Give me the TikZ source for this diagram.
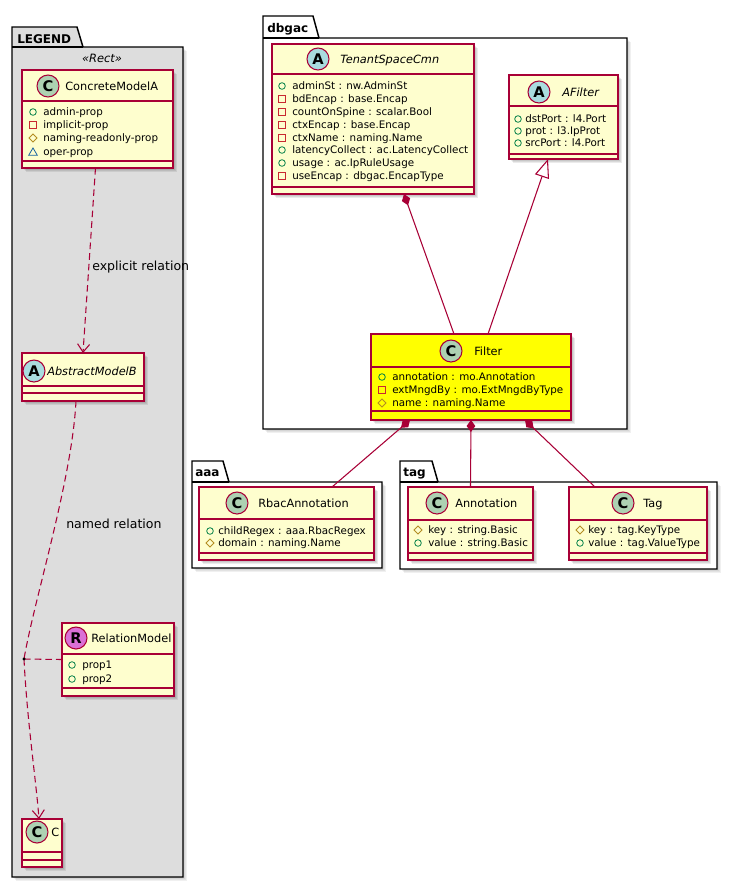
\documentclass[tikz,border=0pt]{standalone}
\usepackage{fontspec}
\setmainfont{DejaVu Sans}
\usetikzlibrary{arrows.meta,fit,calc}
\definecolor{boxfill}{HTML}{FEFECE}
\definecolor{border}{HTML}{A80036}
\definecolor{legbg}{HTML}{DDDDDD}
\definecolor{icC}{HTML}{ADD1B2}
\definecolor{icA}{HTML}{A9DCDF}
\definecolor{icR}{HTML}{DA70D6}
\definecolor{vpub}{HTML}{038048}
\definecolor{vpriv}{HTML}{C82930}
\definecolor{vprot}{HTML}{B38D22}
\definecolor{vpkg}{HTML}{1963A0}
\definecolor{hilite}{HTML}{FFFF00}
\tikzset{
  classbox/.style={draw=border, line width=1.1pt, inner sep=0pt, outer sep=0pt, rectangle},
  seprule/.style={draw=border, line width=1.1pt},
  pkgline/.style={draw=black, line width=1.1pt, line join=miter},
  nametext/.style={inner sep=0pt, anchor=base west, font=\fontsize{8.5pt}{10pt}\selectfont},
  attrtext/.style={inner sep=0pt, anchor=base west, font=\fontsize{7.75pt}{9pt}\selectfont},
  icontext/.style={inner sep=0pt, font=\fontsize{11pt}{12pt}\selectfont\bfseries},
  pkgtext/.style={inner sep=0pt, anchor=base west, font=\fontsize{9pt}{10pt}\selectfont\bfseries},
  lbltext/.style={inner sep=0pt, anchor=base west, font=\fontsize{9.4pt}{10pt}\selectfont},
  link/.style={draw=border, line width=0.8pt},
  dashlink/.style={link, dash pattern=on 5pt off 3pt},
  compo/.style={link, arrows={Diamond[length=9pt,width=6.5pt]-}},
  inherit/.style={link, arrows={-Triangle[length=14pt,width=11pt,fill=white]}},
  openarrow/.style={arrows={-Straight Barb[length=6pt,width=9pt]}},
}
% package: x1, tabtop, tabright, bodytop, x2, y2, fill
\newcommand\umlpkg[7]{%
  \foreach \s in {1,2,3,4}{\fill[black,opacity=0.06] ({#1+\s},{#4+\s}) rectangle ({#5+\s},{#6+\s});}
  \draw[pkgline, fill=#7] (#1,#2) -- (#3,#2) -- ({#3+6},#4) -- (#5,#4) -- (#5,#6) -- (#1,#6) -- cycle;
  \draw[pkgline] (#1,#4) -- ({#3+6},#4);
}
% class frame: name, x1, y1, x2, y2, hsep, asep, fill
\newcommand\umlframe[8]{%
  \foreach \s in {1,2,3,4}{\fill[black,opacity=0.08] ({#2+\s},{#3+\s}) rectangle ({#4+\s},{#5+\s});}
  \node[classbox, fill=#8, fit={(#2,#3) (#4,#5)}] (#1) {};
  \draw[seprule] (#2,#6) -- (#4,#6);
  \draw[seprule] (#2,#7) -- (#4,#7);
}
% icon: name, x, y, fill, letter
\newcommand\umlicon[5]{%
  \draw[border, fill=#4, line width=0.8pt] (#2,#3) circle[radius=11];
  \node[icontext] (#1) at (#2,#3) {#5};
}
\newcommand\vispub[2]{\draw[vpub, line width=0.6pt] (#1,#2) circle[radius=3.3];}
\newcommand\vispriv[2]{\draw[vpriv, line width=0.6pt] ({#1-3.2},{#2-3.2}) rectangle ({#1+3.2},{#2+3.2});}
\newcommand\visprot[2]{\draw[vprot, line width=0.6pt] (#1,{#2-4}) -- ({#1+4},#2) -- (#1,{#2+4}) -- ({#1-4},#2) -- cycle;}
\newcommand\vispkg[2]{\draw[vpkg, line width=0.6pt] (#1,{#2-4}) -- ({#1+4.3},{#2+3.2}) -- ({#1-4.3},{#2+3.2}) -- cycle;}
% attribute: name, vis, iconx, textx, y, text
\newcommand\umlattr[6]{\csname vis#2\endcsname{#3}{#5}\node[attrtext] (#1) at ({#4},{#5+3.8}) {#6};}
\begin{document}
\begin{tikzpicture}[x=0.75pt,y=-0.75pt]
\useasboundingbox (0,0) rectangle (736,886);
% ---------- packages ----------
\umlpkg{12}{27}{77}{47}{183}{877}{legbg}
\node[pkgtext] (pk-legend) at (17,43) {LEGEND};
\umlpkg{263}{16}{313}{38}{627}{429}{white}
\node[pkgtext] (pk-dbgac) at (267,32) {dbgac};
\umlpkg{192}{461}{223}{482}{382}{568}{white}
\node[pkgtext] (pk-aaa) at (195,476) {aaa};
\umlpkg{400}{461}{432}{482}{717}{569}{white}
\node[pkgtext] (pk-tag) at (403,476) {tag};

% ---------- legend ----------
\node[inner sep=0pt, font=\fontsize{8.6pt}{9pt}\selectfont\itshape] (stereo) at (102,58) {«Rect»};
\umlframe{cma}{22}{70}{173}{168}{101}{161}{boxfill}
\umlicon{cma-i}{48}{86}{icC}{C}
\node[nametext] (cma-n) at (65,90) {ConcreteModelA};
\umlattr{cma-a1}{pub}{33}{43}{112}{admin-prop}
\umlattr{cma-a2}{priv}{33}{43}{125}{implicit-prop}
\umlattr{cma-a3}{prot}{33}{43}{138}{naming-readonly-prop}
\umlattr{cma-a4}{pkg}{33}{43}{152}{oper-prop}

\umlframe{amb}{22}{353}{144}{401}{386}{393}{boxfill}
\umlicon{amb-i}{34}{371}{icA}{A}
\node[nametext] (amb-n) at (47,375) {\itshape AbstractModelB};

\umlframe{rm}{62}{623}{174}{696}{654}{688}{boxfill}
\umlicon{rm-i}{76}{638}{icR}{R}
\node[nametext] (rm-n) at (91,642) {RelationModel};
\umlattr{rm-a1}{pub}{72}{82}{665}{prop1}
\umlattr{rm-a2}{pub}{72}{82}{679}{prop2}

\umlframe{cbox}{22}{819}{62}{867}{852}{860}{boxfill}
\umlicon{cbox-i}{37}{832}{icC}{C}
\node[nametext] (cbox-n) at (51,836) {C};

\draw[dashlink, openarrow] ($(cma.south)+(-2,0)$) -- (amb.north);
\node[lbltext] (lbl-explicit) at (92,270) {explicit relation};
\coordinate (jn) at (24,659);
\draw[dashlink] ($(amb.south)+(-7,0)$) .. controls (72,480) and (34,600) .. (jn);
\draw[dashlink, openarrow] (jn) .. controls (27,720) and (36,780) .. ($(cbox.north)+(-3,0)$);
\draw[dashlink] (jn) -- (rm.west);
\fill[black] (jn) circle[radius=1.7];
\node[lbltext] (lbl-named) at (66,528) {named relation};

% ---------- dbgac ----------
\umlframe{tsc}{272}{44}{474}{194}{74}{187}{boxfill}
\umlicon{tsc-i}{318}{59}{icA}{A}
\node[nametext] (tsc-n) at (340,63) {\itshape TenantSpaceCmn};
\umlattr{tsc-a1}{pub}{282}{292}{86}{adminSt : nw.AdminSt}
\umlattr{tsc-a2}{priv}{282}{292}{99}{bdEncap : base.Encap}
\umlattr{tsc-a3}{priv}{282}{292}{112}{countOnSpine : scalar.Bool}
\umlattr{tsc-a4}{priv}{282}{292}{125}{ctxEncap : base.Encap}
\umlattr{tsc-a5}{priv}{282}{292}{138}{ctxName : naming.Name}
\umlattr{tsc-a6}{pub}{282}{292}{150}{latencyCollect : ac.LatencyCollect}
\umlattr{tsc-a7}{pub}{282}{292}{163}{usage : ac.IpRuleUsage}
\umlattr{tsc-a8}{priv}{282}{292}{176}{useEncap : dbgac.EncapType}

\umlframe{af}{509}{75}{618}{159}{106}{154}{boxfill}
\umlicon{af-i}{539}{92}{icA}{A}
\node[nametext] (af-n) at (562,96) {\itshape AFilter};
\umlattr{af-a1}{pub}{518}{525}{119}{dstPort : l4.Port}
\umlattr{af-a2}{pub}{518}{525}{131}{prot : l3.IpProt}
\umlattr{af-a3}{pub}{518}{525}{143}{srcPort : l4.Port}

\umlframe{flt}{371}{334}{571}{420}{367}{411}{hilite}
\umlicon{flt-i}{451}{351}{icC}{C}
\node[nametext] (flt-n) at (474,355) {Filter};
\umlattr{flt-a1}{pub}{382}{392}{377}{annotation : mo.Annotation}
\umlattr{flt-a2}{priv}{382}{392}{390}{extMngdBy : mo.ExtMngdByType}
\umlattr{flt-a3}{prot}{382}{392}{403}{name : naming.Name}

% ---------- aaa ----------
\umlframe{rbac}{199}{487}{374}{560}{519}{553}{boxfill}
\umlicon{rbac-i}{237}{503}{icC}{C}
\node[nametext] (rbac-n) at (258,507) {RbacAnnotation};
\umlattr{rbac-a1}{pub}{210}{218}{531}{childRegex : aaa.RbacRegex}
\umlattr{rbac-a2}{prot}{210}{218}{543}{domain : naming.Name}

% ---------- tag ----------
\umlframe{ann}{408}{487}{533}{560}{520}{553}{boxfill}
\umlicon{ann-i}{437}{503}{icC}{C}
\node[nametext] (ann-n) at (455,507) {Annotation};
\umlattr{ann-a1}{prot}{418}{428}{530}{key : string.Basic}
\umlattr{ann-a2}{pub}{418}{428}{543}{value : string.Basic}

\umlframe{tagc}{569}{487}{707}{560}{520}{553}{boxfill}
\umlicon{tagc-i}{623}{503}{icC}{C}
\node[nametext] (tagc-n) at (643,507) {Tag};
\umlattr{tagc-a1}{prot}{580}{588}{530}{key : tag.KeyType}
\umlattr{tagc-a2}{pub}{580}{588}{543}{value : tag.ValueType}

% ---------- connectors ----------
\draw[compo] ($(tsc.south)+(31,0)$) -- ($(flt.north)+(-17,0)$);
\draw[inherit] ($(flt.north)+(17,0)$) -- ($(af.south)+(-15.5,0)$);
\draw[compo] ($(flt.south)+(-61,0)$) -- ($(rbac.north)+(45.5,0)$);
\draw[compo] (flt.south) -- (ann.north);
\draw[compo] ($(flt.south)+(54,0)$) -- ($(tagc.north)+(-43,0)$);
\end{tikzpicture}
\end{document}
